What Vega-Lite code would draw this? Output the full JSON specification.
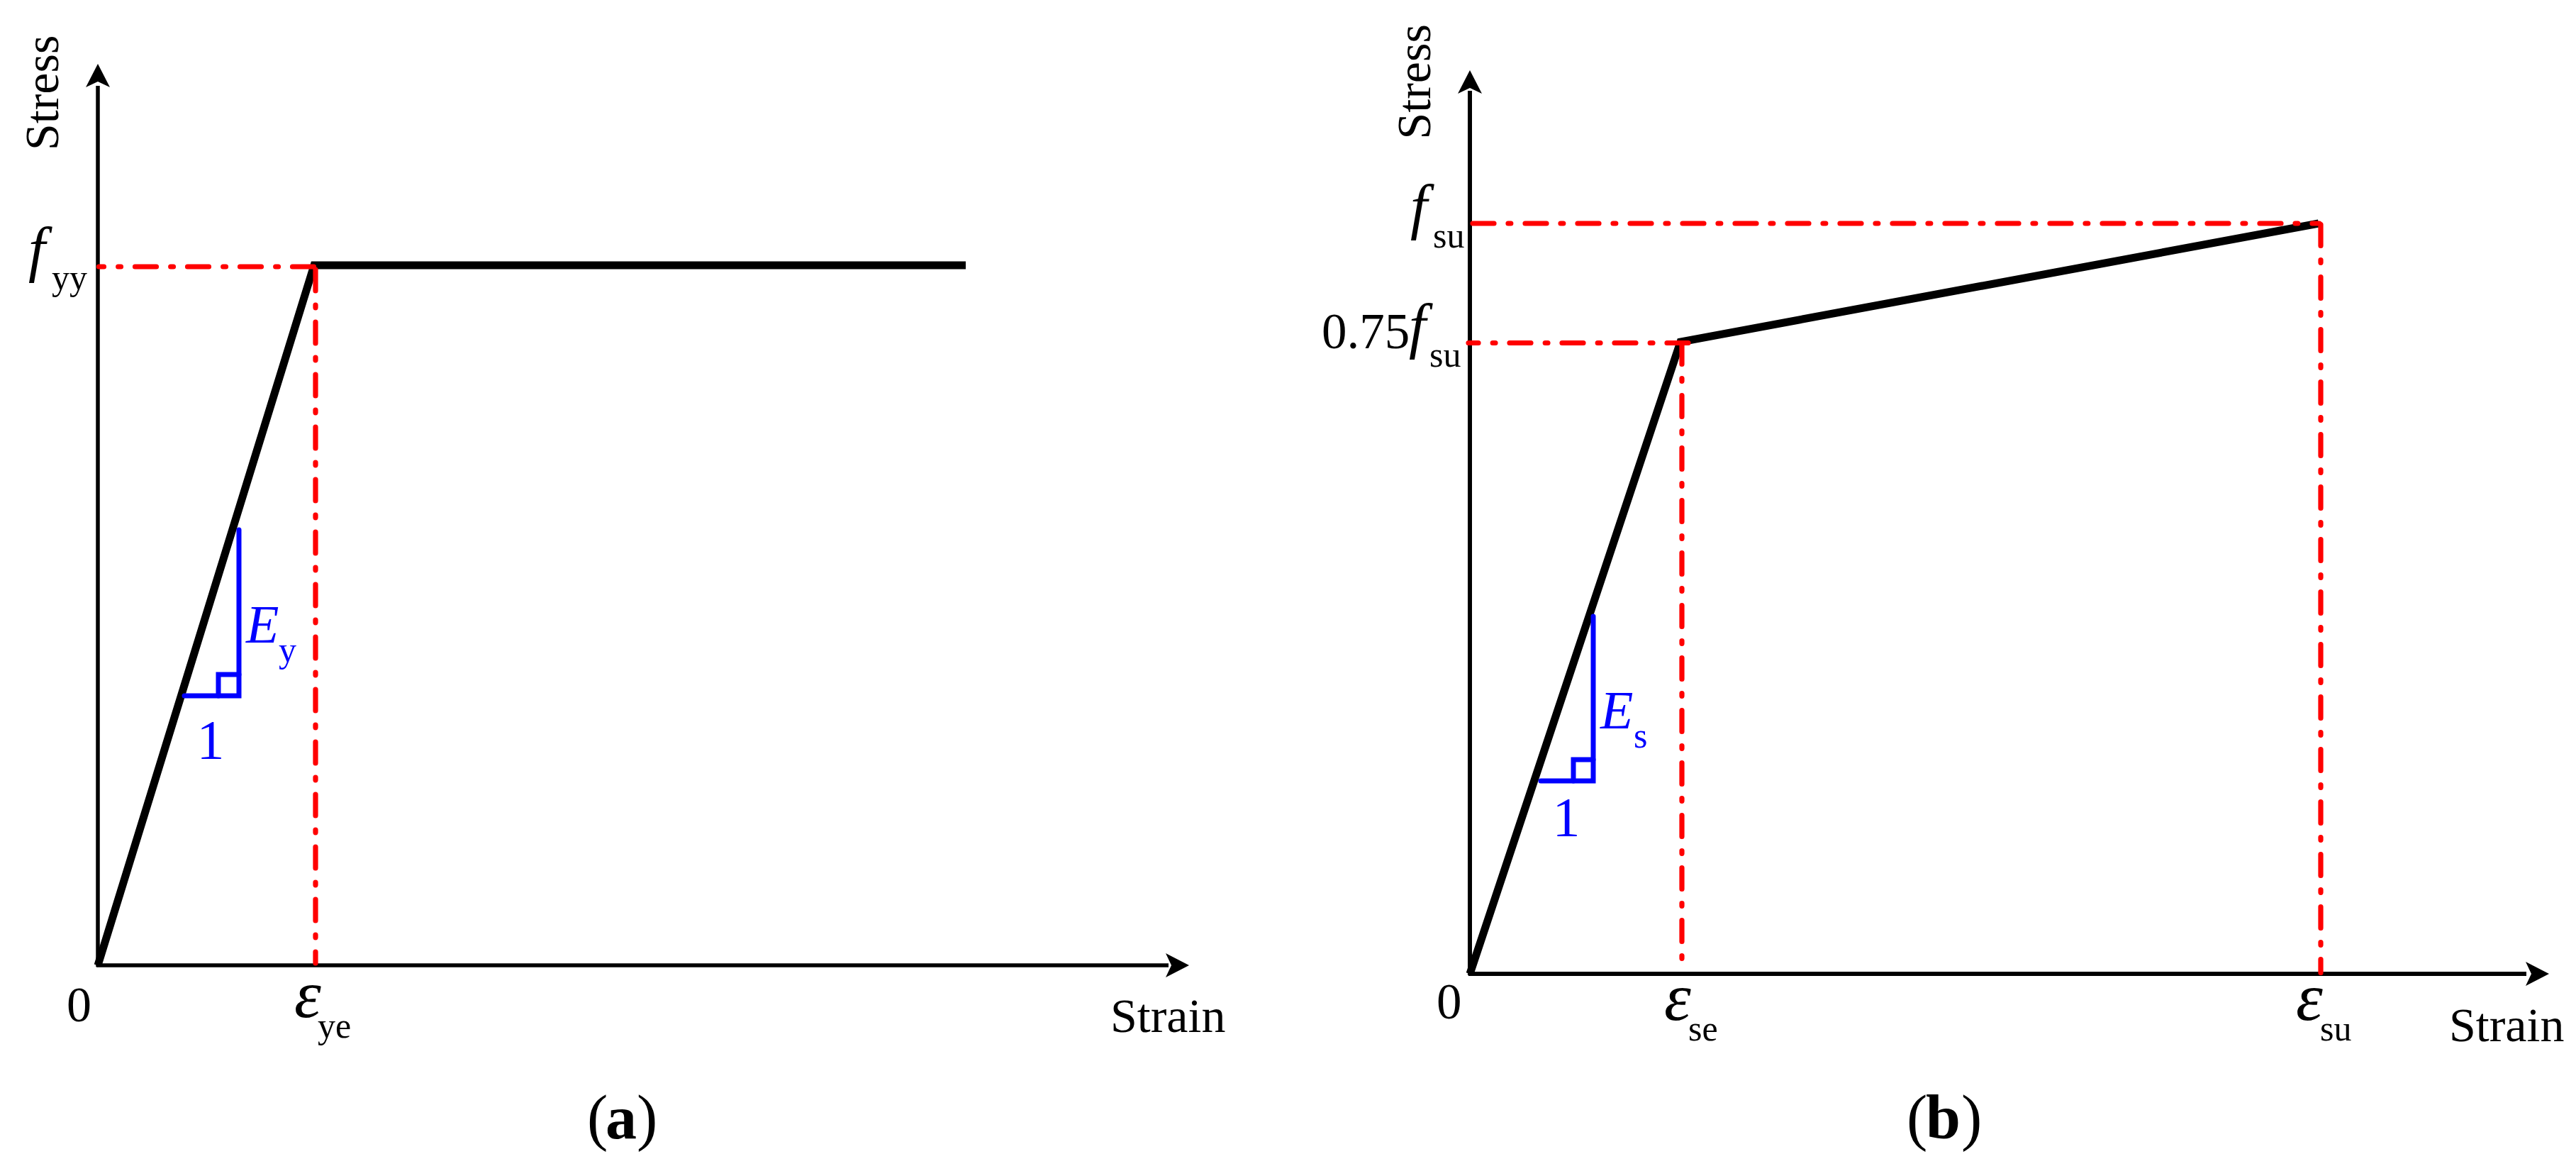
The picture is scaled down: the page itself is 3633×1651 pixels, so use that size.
{
"$schema":"https://vega.github.io/schema/vega-lite/v6.json",
"padding":0,
"spacing":0,
"background":"white",
"config":{"view":{"stroke":null},"concat":{"spacing":0}},
"hconcat":[
{"width":1816,"height":1651,
"encoding":{"x":{"field":"strain","type":"quantitative","axis":null,"scale":{"domain":[-138,1678],"nice":false,"zero":false}},
"y":{"field":"stress","type":"quantitative","axis":null,"scale":{"domain":[-290,1361],"nice":false,"zero":false}}},
"layer":[
{"data":{"values":[{"series":"x-axis","seq":0,"strain":-2,"stress":0},{"series":"x-axis","seq":1,"strain":1510,"stress":0},{"series":"y-axis","seq":0,"strain":0,"stress":-2},{"series":"y-axis","seq":1,"strain":0,"stress":1240}]},
"mark":{"type":"line","stroke":"#000000","strokeWidth":5.5},
"encoding":{"detail":{"field":"series"},"order":{"field":"seq"}}},
{"data":{"values":[{"strain":0,"stress":1271}]},"mark":{"type":"point","shape":"M0,0L1,1.94L0,1.47L-1,1.94Z","size":1156,"filled":true,"fill":"#000000","stroke":null,"opacity":1}},
{"data":{"values":[{"strain":1539,"stress":0}]},"mark":{"type":"point","shape":"M0,0L-1.94,-1L-1.47,0L-1.94,1Z","size":1156,"filled":true,"fill":"#000000","stroke":null,"opacity":1}},
{"data":{"values":[{"seq":0,"strain":0,"stress":0},{"seq":1,"strain":305,"stress":987},{"seq":2,"strain":1224,"stress":987}]},
"mark":{"type":"line","stroke":"#000000","strokeWidth":11,"strokeJoin":"miter"},"encoding":{"order":{"field":"seq"}}},
{"data":{"values":[{"series":"rise","seq":0,"strain":122,"stress":380},{"series":"rise","seq":1,"strain":199,"stress":380},{"series":"rise","seq":2,"strain":199,"stress":614},{"series":"box","seq":0,"strain":170,"stress":380},{"series":"box","seq":1,"strain":170,"stress":410},{"series":"box","seq":2,"strain":199,"stress":410}]},
"mark":{"type":"line","stroke":"#0000FF","strokeWidth":7,"strokeCap":"round","strokeJoin":"miter"},"encoding":{"detail":{"field":"series"},"order":{"field":"seq"}}},
{"data":{"values":[{"series":"h","seq":0,"strain":304.5,"stress":985},{"series":"h","seq":1,"strain":1.5,"stress":985},{"series":"v","seq":0,"strain":307,"stress":981},{"series":"v","seq":1,"strain":307,"stress":3}]},
"mark":{"type":"line","stroke":"#FF0000","strokeWidth":7.2,"strokeCap":"round","strokeDash":[30,20,3.8,20.2]},"encoding":{"detail":{"field":"series"},"order":{"field":"seq"}}},
{"data":{"values":[{"label":"Stress","strain":-56,"stress":1149}]},"mark":{"type":"text","font":"Liberation Serif","fontSize":68,"angle":270,"align":"left","baseline":"alphabetic","fill":"#000000"},"encoding":{"text":{"field":"label"}}},
{"data":{"values":[{"label":"Strain","strain":1428,"stress":-94}]},"mark":{"type":"text","font":"Liberation Serif","fontSize":68,"align":"left","baseline":"alphabetic","fill":"#000000"},"encoding":{"text":{"field":"label"}}},
{"data":{"values":[{"label":"0","strain":-44,"stress":-79}]},"mark":{"type":"text","font":"Liberation Serif","fontSize":70,"align":"left","baseline":"alphabetic","fill":"#000000"},"encoding":{"text":{"field":"label"}}},
{"data":{"values":[{"label":"f","strain":-98,"stress":981}]},"mark":{"type":"text","font":"Liberation Serif","fontStyle":"italic","fontSize":86,"align":"left","baseline":"alphabetic","fill":"#000000"},"encoding":{"text":{"field":"label"}}},
{"data":{"values":[{"label":"ε","strain":277,"stress":-73}]},"mark":{"type":"text","font":"Liberation Serif","fontStyle":"italic","fontSize":96,"align":"left","baseline":"alphabetic","fill":"#000000"},"encoding":{"text":{"field":"label"}}},
{"data":{"values":[{"label":"yy","strain":-65,"stress":953},{"label":"ye","strain":310,"stress":-102}]},"mark":{"type":"text","font":"Liberation Serif","fontSize":50,"align":"left","baseline":"alphabetic","fill":"#000000"},"encoding":{"text":{"field":"label"}}},
{"data":{"values":[{"label":"E","strain":209,"stress":455}]},"mark":{"type":"text","font":"Liberation Serif","fontStyle":"italic","fontSize":76,"align":"left","baseline":"alphabetic","fill":"#0000FF"},"encoding":{"text":{"field":"label"}}},
{"data":{"values":[{"label":"y","strain":255,"stress":428}]},"mark":{"type":"text","font":"Liberation Serif","fontSize":50,"align":"left","baseline":"alphabetic","fill":"#0000FF"},"encoding":{"text":{"field":"label"}}},
{"data":{"values":[{"label":"1","strain":139.5,"stress":292}]},"mark":{"type":"text","font":"Liberation Serif","fontSize":78,"align":"left","baseline":"alphabetic","fill":"#0000FF"},"encoding":{"text":{"field":"label"}}},
{"data":{"values":[{"label":"(","strain":690,"stress":-244},{"label":")","strain":760,"stress":-244}]},"mark":{"type":"text","font":"Liberation Serif","fontSize":88,"align":"left","baseline":"alphabetic","fill":"#000000"},"encoding":{"text":{"field":"label"}}},
{"data":{"values":[{"label":"a","strain":716,"stress":-244}]},"mark":{"type":"text","font":"Liberation Serif","fontWeight":"bold","fontSize":88,"align":"left","baseline":"alphabetic","fill":"#000000"},"encoding":{"text":{"field":"label"}}}
]},
{"width":1817,"height":1651,
"encoding":{"x":{"field":"strain","type":"quantitative","axis":null,"scale":{"domain":[-257,1560],"nice":false,"zero":false}},
"y":{"field":"stress","type":"quantitative","axis":null,"scale":{"domain":[-278,1373],"nice":false,"zero":false}}},
"layer":[
{"data":{"values":[{"series":"x-axis","seq":0,"strain":-2,"stress":0},{"series":"x-axis","seq":1,"strain":1490,"stress":0},{"series":"y-axis","seq":0,"strain":0,"stress":-2},{"series":"y-axis","seq":1,"strain":0,"stress":1245}]},
"mark":{"type":"line","stroke":"#000000","strokeWidth":6},
"encoding":{"detail":{"field":"series"},"order":{"field":"seq"}}},
{"data":{"values":[{"strain":0,"stress":1274}]},"mark":{"type":"point","shape":"M0,0L1,1.94L0,1.47L-1,1.94Z","size":1156,"filled":true,"fill":"#000000","stroke":null,"opacity":1}},
{"data":{"values":[{"strain":1522,"stress":0}]},"mark":{"type":"point","shape":"M0,0L-1.94,-1L-1.47,0L-1.94,1Z","size":1156,"filled":true,"fill":"#000000","stroke":null,"opacity":1}},
{"data":{"values":[{"seq":0,"strain":0,"stress":0},{"seq":1,"strain":297,"stress":891},{"seq":2,"strain":1197,"stress":1058}]},
"mark":{"type":"line","stroke":"#000000","strokeWidth":11,"strokeJoin":"miter"},"encoding":{"order":{"field":"seq"}}},
{"data":{"values":[{"series":"rise","seq":0,"strain":100,"stress":272},{"series":"rise","seq":1,"strain":174,"stress":272},{"series":"rise","seq":2,"strain":174,"stress":504},{"series":"box","seq":0,"strain":146,"stress":272},{"series":"box","seq":1,"strain":146,"stress":302},{"series":"box","seq":2,"strain":174,"stress":302}]},
"mark":{"type":"line","stroke":"#0000FF","strokeWidth":7,"strokeCap":"round","strokeJoin":"miter"},"encoding":{"detail":{"field":"series"},"order":{"field":"seq"}}},
{"data":{"values":[{"series":"h1","seq":0,"strain":4,"stress":1058},{"series":"h1","seq":1,"strain":1198,"stress":1058},{"series":"v1","seq":0,"strain":1200,"stress":1056.5},{"series":"v1","seq":1,"strain":1200,"stress":1.5},{"series":"h2","seq":0,"strain":308,"stress":889.5},{"series":"h2","seq":1,"strain":-2,"stress":889.5},{"series":"v2","seq":0,"strain":299,"stress":889.5},{"series":"v2","seq":1,"strain":299,"stress":1.5}]},
"mark":{"type":"line","stroke":"#FF0000","strokeWidth":7.2,"strokeCap":"round","strokeDash":[30,20,3.8,20.2]},"encoding":{"detail":{"field":"series"},"order":{"field":"seq"}}},
{"data":{"values":[{"label":"Stress","strain":-56,"stress":1176.5}]},"mark":{"type":"text","font":"Liberation Serif","fontSize":68,"angle":270,"align":"left","baseline":"alphabetic","fill":"#000000"},"encoding":{"text":{"field":"label"}}},
{"data":{"values":[{"label":"Strain","strain":1381,"stress":-95}]},"mark":{"type":"text","font":"Liberation Serif","fontSize":68,"align":"left","baseline":"alphabetic","fill":"#000000"},"encoding":{"text":{"field":"label"}}},
{"data":{"values":[{"label":"0","strain":-47,"stress":-63},{"label":"0.75","strain":-209,"stress":882}]},"mark":{"type":"text","font":"Liberation Serif","fontSize":71,"align":"left","baseline":"alphabetic","fill":"#000000"},"encoding":{"text":{"field":"label"}}},
{"data":{"values":[{"label":"f","strain":-84,"stress":1053},{"label":"f","strain":-86,"stress":885}]},"mark":{"type":"text","font":"Liberation Serif","fontStyle":"italic","fontSize":86,"align":"left","baseline":"alphabetic","fill":"#000000"},"encoding":{"text":{"field":"label"}}},
{"data":{"values":[{"label":"ε","strain":274,"stress":-65},{"label":"ε","strain":1165,"stress":-65}]},"mark":{"type":"text","font":"Liberation Serif","fontStyle":"italic","fontSize":96,"align":"left","baseline":"alphabetic","fill":"#000000"},"encoding":{"text":{"field":"label"}}},
{"data":{"values":[{"label":"su","strain":-52,"stress":1024},{"label":"su","strain":-57,"stress":856},{"label":"se","strain":308,"stress":-94},{"label":"su","strain":1199,"stress":-94}]},"mark":{"type":"text","font":"Liberation Serif","fontSize":50,"align":"left","baseline":"alphabetic","fill":"#000000"},"encoding":{"text":{"field":"label"}}},
{"data":{"values":[{"label":"E","strain":184,"stress":346}]},"mark":{"type":"text","font":"Liberation Serif","fontStyle":"italic","fontSize":76,"align":"left","baseline":"alphabetic","fill":"#0000FF"},"encoding":{"text":{"field":"label"}}},
{"data":{"values":[{"label":"s","strain":231,"stress":319}]},"mark":{"type":"text","font":"Liberation Serif","fontSize":50,"align":"left","baseline":"alphabetic","fill":"#0000FF"},"encoding":{"text":{"field":"label"}}},
{"data":{"values":[{"label":"1","strain":116.5,"stress":195}]},"mark":{"type":"text","font":"Liberation Serif","fontSize":78,"align":"left","baseline":"alphabetic","fill":"#0000FF"},"encoding":{"text":{"field":"label"}}},
{"data":{"values":[{"label":"(","strain":616,"stress":-232},{"label":")","strain":693,"stress":-232}]},"mark":{"type":"text","font":"Liberation Serif","fontSize":88,"align":"left","baseline":"alphabetic","fill":"#000000"},"encoding":{"text":{"field":"label"}}},
{"data":{"values":[{"label":"b","strain":643,"stress":-232}]},"mark":{"type":"text","font":"Liberation Serif","fontWeight":"bold","fontSize":88,"align":"left","baseline":"alphabetic","fill":"#000000"},"encoding":{"text":{"field":"label"}}}
]}
]
}
